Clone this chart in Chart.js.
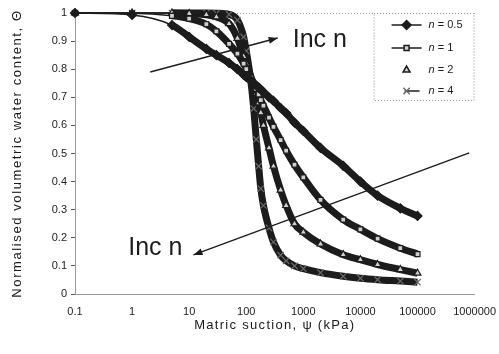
<!DOCTYPE html>
<html>
<head>
<meta charset="utf-8">
<script src="https://cdn.jsdelivr.net/npm/chart.js"></script>
<style>
    html, body { margin: 0; padding: 0; background: #fff; }
    canvas { display: block; }
</style>
</head>
<body>
<canvas id="swccChart" width="499" height="354"></canvas>
<script>
// Matric suction (kPa) at which the curves were read
const suction = [0.1, 1, 5, 10, 20, 30, 50, 70, 90, 100, 120, 135, 150, 165, 180, 200, 250, 300, 400, 500, 700, 1000, 2000, 5000, 10000, 20000, 50000, 100000];

// Normalised volumetric water content for each n
const thetaN05 = [1.0, 0.993, 0.957, 0.915, 0.872, 0.85, 0.822, 0.80, 0.78, 0.772, 0.76, 0.75, 0.742, 0.735, 0.727, 0.719, 0.70, 0.687, 0.662, 0.644, 0.61, 0.58, 0.52, 0.456, 0.40, 0.35, 0.305, 0.278];
const thetaN1 = [1.0, 0.999, 0.99, 0.98, 0.96, 0.935, 0.89, 0.855, 0.82, 0.80, 0.77, 0.748, 0.73, 0.71, 0.69, 0.67, 0.628, 0.595, 0.548, 0.51, 0.46, 0.415, 0.335, 0.265, 0.23, 0.197, 0.163, 0.142];
const thetaN2 = [1.0, 1.0, 1.0, 0.998, 0.994, 0.986, 0.962, 0.91, 0.845, 0.82, 0.775, 0.745, 0.715, 0.68, 0.645, 0.60, 0.52, 0.455, 0.37, 0.315, 0.25, 0.22, 0.178, 0.14, 0.122, 0.105, 0.087, 0.074];
const thetaN4 = [1.0, 1.0, 1.0, 1.0, 1.0, 0.999, 0.995, 0.975, 0.915, 0.865, 0.76, 0.66, 0.55, 0.455, 0.375, 0.315, 0.235, 0.185, 0.138, 0.118, 0.10, 0.09, 0.076, 0.063, 0.056, 0.051, 0.046, 0.042];

const nValues = ['0.5', '1', '2', '4'];

const xTicks = [0.1, 1, 10, 100, 1000, 10000, 100000, 1000000];
const xTickLabels = ['0.1', '1', '10', '100', '1000', '10000', '100000', '1000000'];
const yTicks = [0, 0.1, 0.2, 0.3, 0.4, 0.5, 0.6, 0.7, 0.8, 0.9, 1];
const yTickLabels = ['0', '0.1', '0.2', '0.3', '0.4', '0.5', '0.6', '0.7', '0.8', '0.9', '1'];

const xTitle = 'Matric suction, ψ (kPa)';
const yTitle = 'Normalised volumetric water content, Θ';

// "Inc n" notes, anchored in data units (suction, theta)
const notes = [
    { text: 'Inc n', at: [652, 0.879], from: [2.08, 0.79], to: [355, 0.911] },
    { text: 'Inc n', at: [0.855, 0.139], from: [807000, 0.502], to: [11.9, 0.139] },
];

const FONT = "'Liberation Sans', Arial, sans-serif";
const INK = '#1c1c1c';

function toPoints(values) {
    return suction.map((s, i) => ({ x: s, y: values[i] }));
}

// thin line where the points are sparse, thick band where the original is dense
const bandWidth = (ctx) => (ctx.p0.parsed.x < 5 ? 1.5 : 7);

const markerStyles = [
    { pointStyle: 'rectRot', radius: 4.5, fill: INK, stroke: INK },
    { pointStyle: 'rect', radius: 3.5, fill: '#cfcfcf', stroke: INK },
    { pointStyle: 'triangle', radius: 4, fill: '#cfcfcf', stroke: INK },
    { pointStyle: 'crossRot', radius: 4.5, fill: INK, stroke: '#6a6a6a' },
];

const datasets = [thetaN05, thetaN1, thetaN2, thetaN4].map((values, i) => ({
    label: 'n = ' + nValues[i],
    data: toPoints(values),
    showLine: true,
    borderColor: INK,
    borderWidth: 7,
    segment: { borderWidth: bandWidth },
    cubicInterpolationMode: 'monotone',
    pointStyle: markerStyles[i].pointStyle,
    pointRadius: markerStyles[i].radius,
    pointBackgroundColor: markerStyles[i].fill,
    pointBorderColor: markerStyles[i].stroke,
    pointBorderWidth: 1.2,
    clip: 10,
}));

// dotted top edge of the plot and the two axis titles (spaced letters)
const frameLines = {
    id: 'frameLines',
    beforeDatasetsDraw(chart) {
        const { ctx, chartArea } = chart;
        ctx.save();
        ctx.strokeStyle = '#9a9a9a';
        ctx.lineWidth = 1;
        ctx.setLineDash([1, 2]);
        ctx.beginPath();
        ctx.moveTo(chartArea.left, chartArea.top + 0.5);
        ctx.lineTo(chartArea.right, chartArea.top + 0.5);
        ctx.stroke();
        ctx.setLineDash([]);

        ctx.fillStyle = '#1a1a1a';
        ctx.font = '13px ' + FONT;
        ctx.letterSpacing = '1.3px';
        ctx.textAlign = 'center';
        ctx.textBaseline = 'middle';
        ctx.fillText(xTitle, (chartArea.left + chartArea.right) / 2, 325);

        ctx.translate(17, (chartArea.top + chartArea.bottom) / 2);
        ctx.rotate(-Math.PI / 2);
        ctx.letterSpacing = '1.6px';
        ctx.fillText(yTitle, 0, 0);
        ctx.restore();
    },
};

function drawArrow(ctx, x1, y1, x2, y2) {
    const ang = Math.atan2(y2 - y1, x2 - x1);
    ctx.beginPath();
    ctx.moveTo(x1, y1);
    ctx.lineTo(x2, y2);
    ctx.stroke();
    ctx.beginPath();
    ctx.moveTo(x2, y2);
    ctx.lineTo(x2 - 9 * Math.cos(ang) + 3.5 * Math.sin(ang), y2 - 9 * Math.sin(ang) - 3.5 * Math.cos(ang));
    ctx.lineTo(x2 - 9 * Math.cos(ang) - 3.5 * Math.sin(ang), y2 - 9 * Math.sin(ang) + 3.5 * Math.cos(ang));
    ctx.closePath();
    ctx.fill();
}

const incNotes = {
    id: 'incNotes',
    afterDatasetsDraw(chart) {
        const { ctx, scales } = chart;
        ctx.save();
        ctx.strokeStyle = INK;
        ctx.fillStyle = INK;
        ctx.lineWidth = 1.4;
        ctx.font = '25px ' + FONT;
        ctx.textBaseline = 'alphabetic';
        ctx.textAlign = 'left';
        notes.forEach((note) => {
            const px = (p) => [scales.x.getPixelForValue(p[0]), scales.y.getPixelForValue(p[1])];
            const [tx, ty] = px(note.at);
            ctx.fillText(note.text, tx, ty);
            const [x1, y1] = px(note.from);
            const [x2, y2] = px(note.to);
            drawArrow(ctx, x1, y1, x2, y2);
        });
        ctx.restore();
    },
};

// legend box in the upper right corner of the plot
const legendBox = {
    id: 'legendBox',
    afterDraw(chart) {
        const { ctx, chartArea } = chart;
        const w = 100;
        const h = 87;
        const left = chartArea.right - w - 1;
        const top = chartArea.top;
        const rows = [12, 35, 57, 78];
        const lines = [[18, 48], [18, 48], null, [31, 46]];
        ctx.save();
        ctx.fillStyle = '#fff';
        ctx.fillRect(left, top, w, h);
        ctx.strokeStyle = '#8a8a8a';
        ctx.lineWidth = 1;
        ctx.setLineDash([1, 2]);
        ctx.strokeRect(left + 0.5, top + 0.5, w, h);
        ctx.setLineDash([]);

        chart.data.datasets.forEach((ds, i) => {
            const y = top + rows[i];
            if (lines[i]) {
                ctx.strokeStyle = INK;
                ctx.lineWidth = 1.5;
                ctx.beginPath();
                ctx.moveTo(left + lines[i][0], y);
                ctx.lineTo(left + lines[i][1], y);
                ctx.stroke();
            }
            ctx.fillStyle = ds.pointBackgroundColor;
            ctx.strokeStyle = ds.pointBorderColor;
            ctx.lineWidth = 1.5;
            Chart.helpers.drawPoint(ctx, {
                pointStyle: ds.pointStyle,
                radius: ds.pointRadius,
                rotation: 0,
                borderWidth: 1.5,
            }, left + 33, y);

            ctx.fillStyle = INK;
            ctx.textBaseline = 'middle';
            ctx.textAlign = 'left';
            ctx.font = 'italic 11px ' + FONT;
            ctx.fillText('n', left + 55, y);
            const nw = ctx.measureText('n').width;
            ctx.font = '11px ' + FONT;
            ctx.fillText(' = ' + nValues[i], left + 55 + nw, y);
        });
        ctx.restore();
    },
};

const ctx = document.getElementById('swccChart').getContext('2d');

const chart = new Chart(ctx, {
    type: 'scatter',
    data: { datasets },
    options: {
        responsive: false,
        animation: false,
        layout: { padding: { top: 13, right: 20, left: 0, bottom: 0 } },
        plugins: {
            legend: { display: false },
            tooltip: { enabled: false },
        },
        scales: {
            x: {
                type: 'logarithmic',
                min: 0.1,
                max: 1000000,
                afterBuildTicks(scale) {
                    scale.ticks = xTicks.map((v) => ({ value: v }));
                },
                afterFit(scale) {
                    scale.height = 60;
                },
                ticks: {
                    autoSkip: false,
                    maxRotation: 0,
                    padding: 3,
                    color: '#222',
                    font: { family: FONT, size: 11 },
                    callback: (value, index) => xTickLabels[index],
                },
                grid: { display: false },
                border: { display: true, color: '#9a9a9a', dash: [1, 2] },
            },
            y: {
                min: 0,
                max: 1,
                afterBuildTicks(scale) {
                    scale.ticks = yTicks.map((v) => ({ value: v }));
                },
                afterFit(scale) {
                    scale.width = 75;
                },
                ticks: {
                    padding: 4,
                    color: '#222',
                    font: { family: FONT, size: 11 },
                    callback: (value, index) => yTickLabels[index],
                },
                grid: {
                    display: true,
                    drawOnChartArea: false,
                    drawTicks: true,
                    tickLength: 4,
                    color: '#555',
                },
                border: { display: true, color: '#9a9a9a', dash: [1, 2] },
            },
        },
    },
    plugins: [frameLines, incNotes, legendBox],
});
</script>
</body>
</html>
